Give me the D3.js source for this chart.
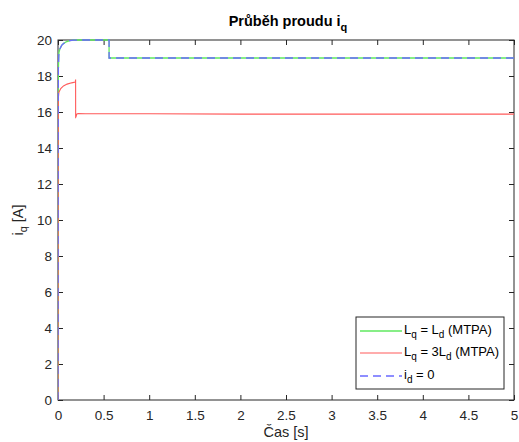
<!DOCTYPE html>
<html>
<head>
<meta charset="utf-8">
<script src="https://cdn.jsdelivr.net/npm/d3@7"></script>
<style>
  html, body { margin: 0; padding: 0; background: #fff; }
  svg { display: block; font-family: "Liberation Sans", Arial, Helvetica, sans-serif; }
</style>
</head>
<body>
<svg id="chart" width="519" height="442"></svg>
<script>
// Time axis samples (s) and current i_q (A) for each control strategy
const timeMtpaEqual = [0, 0.002, 0.004, 0.01, 0.02, 0.04, 0.06, 0.09, 0.13, 0.17, 0.22, 0.3, 0.56, 0.5601, 1, 2, 3, 4, 5];
const iqMtpaEqual   = [0, 14.5, 18.4, 19.3, 19.5, 19.7, 19.8, 19.9, 19.96, 19.99, 20, 20, 20, 19, 19, 19, 19, 19, 19];

const timeMtpaTriple = [0, 0.002, 0.004, 0.01, 0.03, 0.06, 0.1, 0.15, 0.19, 0.193, 0.1935, 0.197, 0.205, 0.22, 0.3, 1, 2, 3, 4, 5];
const iqMtpaTriple   = [0, 13.5, 16.8, 17.1, 17.3, 17.45, 17.55, 17.62, 17.66, 17.8, 15.7, 15.72, 15.88, 15.92, 15.9, 15.9, 15.88, 15.88, 15.88, 15.88];

const timeIdZero = [0, 0.002, 0.004, 0.01, 0.02, 0.04, 0.06, 0.09, 0.13, 0.17, 0.22, 0.3, 0.56, 0.5601, 1, 2, 3, 4, 5];
const iqIdZero   = [0, 14.5, 18.4, 19.3, 19.5, 19.7, 19.8, 19.9, 19.96, 19.99, 20, 20, 20, 19, 19, 19, 19, 19, 19];

const xTicks = [0, 0.5, 1, 1.5, 2, 2.5, 3, 3.5, 4, 4.5, 5];
const yTicks = [0, 2, 4, 6, 8, 10, 12, 14, 16, 18, 20];

const series = [
  { t: timeMtpaEqual,  v: iqMtpaEqual,  color: "#5fe85f", dash: null,  width: 1.3, main: "L", sub: "q", mid: " = L", sub2: "d", tail: " (MTPA)" },
  { t: timeMtpaTriple, v: iqMtpaTriple, color: "#ff5a5a", dash: null,  width: 1.1, main: "L", sub: "q", mid: " = 3L", sub2: "d", tail: " (MTPA)" },
  { t: timeIdZero,     v: iqIdZero,     color: "#6a6aff", dash: "8,5", width: 1.3, main: "i", sub: "d", mid: " = 0", sub2: null, tail: "" }
];

const svg = d3.select("#chart");
const m = { left: 58, right: 514, top: 40, bottom: 400 };
const axisColor = "#262626";

const x = d3.scaleLinear().domain([0, 5]).range([m.left, m.right]);
const y = d3.scaleLinear().domain([0, 20]).range([m.bottom, m.top]);

svg.append("defs").append("clipPath").attr("id", "plotClip")
  .append("rect").attr("x", m.left).attr("y", m.top - 1)
  .attr("width", m.right - m.left).attr("height", m.bottom - m.top + 2);

// Axes with inward ticks, mirrored on the top and right edges
const tickLen = 5;
const fontSize = 13.5;

const xAxis = svg.append("g").attr("transform", `translate(0,${m.bottom})`)
  .call(d3.axisBottom(x).tickValues(xTicks).tickSize(-tickLen).tickPadding(10).tickFormat(d3.format("~g")));
const xAxisTop = svg.append("g").attr("transform", `translate(0,${m.top})`)
  .call(d3.axisTop(x).tickValues(xTicks).tickSize(-tickLen).tickFormat(""));
const yAxis = svg.append("g").attr("transform", `translate(${m.left},0)`)
  .call(d3.axisLeft(y).tickValues(yTicks).tickSize(-tickLen).tickPadding(6).tickFormat(d3.format("~g")));
const yAxisRight = svg.append("g").attr("transform", `translate(${m.right},0)`)
  .call(d3.axisRight(y).tickValues(yTicks).tickSize(-tickLen).tickFormat(""));

[xAxis, xAxisTop, yAxis, yAxisRight].forEach(g => {
  g.selectAll("path.domain").attr("stroke", axisColor).attr("stroke-width", 1).attr("d", null);
  g.selectAll(".tick line").attr("stroke", axisColor);
  g.selectAll(".tick text").attr("fill", axisColor).style("font-size", fontSize + "px")
    .style("font-family", "'Liberation Sans', Arial, sans-serif");
});

// Plot frame
svg.append("rect")
  .attr("x", m.left).attr("y", m.top)
  .attr("width", m.right - m.left).attr("height", m.bottom - m.top)
  .attr("fill", "none").attr("stroke", axisColor).attr("stroke-width", 1);

// Data lines
const lineGen = d3.line().x(d => x(d[0])).y(d => y(d[1]));
const plot = svg.append("g").attr("clip-path", "url(#plotClip)");
series.forEach(s => {
  plot.append("path")
    .datum(s.t.map((t, i) => [t, s.v[i]]))
    .attr("d", lineGen)
    .attr("fill", "none")
    .attr("stroke", s.color)
    .attr("stroke-width", s.width)
    .attr("stroke-dasharray", s.dash);
});

// Title
const title = svg.append("text")
  .attr("x", (m.left + m.right) / 2 + 2).attr("y", 26)
  .attr("text-anchor", "middle")
  .attr("fill", "#000").style("font-weight", "bold").style("font-size", "14.5px");
title.append("tspan").text("Průběh proudu i");
title.append("tspan").attr("dy", 5).style("font-size", "11px").text("q");

// Axis labels
svg.append("text")
  .attr("x", (m.left + m.right) / 2).attr("y", 437)
  .attr("text-anchor", "middle").attr("fill", axisColor)
  .style("font-size", "14.5px").text("Čas [s]");

const yl = svg.append("text")
  .attr("transform", `translate(23,${(m.top + m.bottom) / 2}) rotate(-90)`)
  .attr("text-anchor", "middle").attr("fill", axisColor)
  .style("font-size", "14.5px");
yl.append("tspan").text("i");
yl.append("tspan").attr("dy", 4).style("font-size", "11px").text("q");
yl.append("tspan").attr("dy", -4).text(" [A]");

// Legend
const lg = { x: 356, y: 317, w: 148, h: 72 };
const legend = svg.append("g");
legend.append("rect")
  .attr("x", lg.x).attr("y", lg.y).attr("width", lg.w).attr("height", lg.h)
  .attr("fill", "#fff").attr("stroke", axisColor).attr("stroke-width", 1);

const rowY = [331, 353, 376];
series.forEach((s, i) => {
  const cy = rowY[i];
  legend.append("line")
    .attr("x1", lg.x + 4).attr("x2", lg.x + 46)
    .attr("y1", cy).attr("y2", cy)
    .attr("stroke", s.color).attr("stroke-width", s.width)
    .attr("stroke-dasharray", s.dash);
  const t = legend.append("text")
    .attr("x", lg.x + 48).attr("y", cy + 3)
    .attr("fill", "#000").style("font-size", "13px");
  t.append("tspan").text(s.main);
  t.append("tspan").attr("dy", 4).style("font-size", "10px").text(s.sub);
  if (s.sub2) {
    t.append("tspan").attr("dy", -4).text(s.mid);
    t.append("tspan").attr("dy", 4).style("font-size", "10px").text(s.sub2);
    t.append("tspan").attr("dy", -4).text(s.tail);
  } else {
    t.append("tspan").attr("dy", -4).text(s.mid);
  }
});
</script>
</body>
</html>
